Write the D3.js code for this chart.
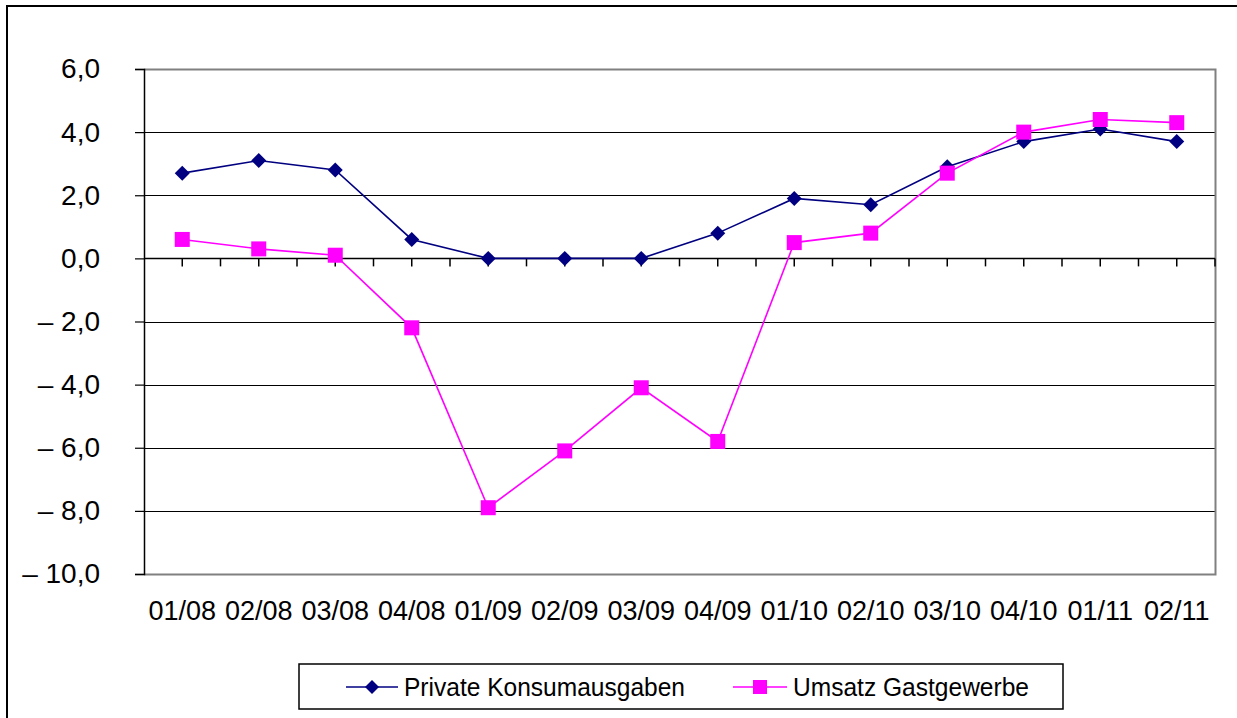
<!doctype html>
<html lang="de">
<head>
<meta charset="utf-8">
<title>Konsum und Gastgewerbe</title>
<style>
html, body { margin: 0; padding: 0; background: #fff; overflow: hidden; }
svg { display: block; font-family: Arial, "Liberation Sans", sans-serif; }
</style>
</head>
<body>
<div id="chart"></div>
<script src="https://cdnjs.cloudflare.com/ajax/libs/d3/7.8.5/d3.min.js"></script>
<script>
// quarters
var quarters = ['01/08', '02/08', '03/08', '04/08', '01/09', '02/09', '03/09', '04/09',
                '01/10', '02/10', '03/10', '04/10', '01/11', '02/11'];
// Private Konsumausgaben
var konsum = [2.7, 3.1, 2.8, 0.6, 0.0, 0.0, 0.0, 0.8, 1.9, 1.7, 2.9, 3.7, 4.1, 3.7];
// Umsatz Gastgewerbe
var gastro = [0.6, 0.3, 0.1, -2.2, -7.9, -6.1, -4.1, -5.8, 0.5, 0.8, 2.7, 4.0, 4.4, 4.3];
var yTicks = [6, 4, 2, 0, -2, -4, -6, -8, -10];
var seriesNames = ['Private Konsumausgaben', 'Umsatz Gastgewerbe'];

var W = 1237, H = 718;
var plot = { left: 144, right: 1215, top: 69, bottom: 574 };
var NAVY = '#000080', MAGENTA = '#ff00ff';

var svg = d3.select('#chart').append('svg')
    .attr('width', W).attr('height', H);

// outer frame (runs off right/bottom edge like the source)
svg.append('rect')
    .attr('x', 7).attr('y', 6).attr('width', W + 10).attr('height', H + 10)
    .attr('fill', 'none').attr('stroke', '#000').attr('stroke-width', 2);

var x = d3.scaleBand().domain(quarters).range([plot.left, plot.right]);
var y = d3.scaleLinear().domain([-10, 6]).range([plot.bottom, plot.top]);
var cx = function (q) { return x(q) + x.bandwidth() / 2; };
var crisp = function (v) { return Math.round(v) + 0.5; };

// gridlines
svg.append('g').selectAll('line')
    .data(yTicks.filter(function (d) { return d !== 6 && d !== -10 && d !== 0; }))
    .enter().append('line')
    .attr('x1', plot.left).attr('x2', plot.right)
    .attr('y1', function (d) { return crisp(y(d)); }).attr('y2', function (d) { return crisp(y(d)); })
    .attr('stroke', '#000').attr('stroke-width', 1);

// plot border (grey top/right/bottom)
svg.append('path')
    .attr('d', 'M' + plot.left + ',' + crisp(y(6)) + 'H' + crisp(plot.right) + 'V' + crisp(y(-10)) + 'H' + plot.left)
    .attr('fill', 'none').attr('stroke', '#808080').attr('stroke-width', 2);

// y axis
var yAxis = d3.axisLeft(y).tickValues(yTicks).tickSize(9).tickPadding(35)
    .tickFormat(function (d) {
        var s = d3.format('.1f')(Math.abs(d)).replace('.', ',');
        return d < 0 ? '\u2013 ' + s : s;
    });
var gy = svg.append('g').attr('transform', 'translate(' + plot.left + ',0)').call(yAxis);
gy.select('.domain').attr('stroke', '#000').attr('stroke-width', 1.5);
gy.selectAll('.tick line').attr('stroke', '#000').attr('stroke-width', 1.2);
gy.selectAll('.tick text').attr('font-size', 28).attr('fill', '#000')
    .attr('font-family', 'Arial, "Liberation Sans", sans-serif');

// zero line with ticks at band centres and boundaries
var half = [];
quarters.forEach(function (q) { half.push(x(q)); half.push(cx(q)); });
half.push(plot.right);
var zero = svg.append('g');
zero.append('line')
    .attr('x1', plot.left).attr('x2', plot.right)
    .attr('y1', crisp(y(0))).attr('y2', crisp(y(0)))
    .attr('stroke', '#000').attr('stroke-width', 1.5);
zero.selectAll('line.tk').data(half.slice(1)).enter().append('line')
    .attr('class', 'tk')
    .attr('x1', function (d) { return d; }).attr('x2', function (d) { return d; })
    .attr('y1', y(0)).attr('y2', y(0) + 8)
    .attr('stroke', '#000').attr('stroke-width', 1.5);

// category labels
svg.append('g').selectAll('text').data(quarters).enter().append('text')
    .attr('x', cx).attr('y', 620)
    .attr('text-anchor', 'middle').attr('font-size', 27).attr('fill', '#000')
    .text(function (d) { return d; });

// lines
var line = d3.line()
    .x(function (d, i) { return cx(quarters[i]); })
    .y(function (d) { return y(d); });

svg.append('path').datum(konsum).attr('d', line)
    .attr('fill', 'none').attr('stroke', NAVY).attr('stroke-width', 1.6);
svg.append('path').datum(gastro).attr('d', line)
    .attr('fill', 'none').attr('stroke', MAGENTA).attr('stroke-width', 1.6);

var diamond = function (px, py, r) {
    return 'M' + px + ',' + (py - r) + 'L' + (px + r) + ',' + py + 'L' + px + ',' + (py + r) + 'L' + (px - r) + ',' + py + 'Z';
};

svg.append('g').selectAll('path').data(konsum).enter().append('path')
    .attr('d', function (d, i) { return diamond(cx(quarters[i]), y(d), 7.5); })
    .attr('fill', NAVY);

svg.append('g').selectAll('rect').data(gastro).enter().append('rect')
    .attr('x', function (d, i) { return cx(quarters[i]) - 7.5; })
    .attr('y', function (d) { return y(d) - 7.5; })
    .attr('width', 15).attr('height', 15)
    .attr('fill', MAGENTA);

// legend
var lg = svg.append('g');
lg.append('rect').attr('x', 299).attr('y', 664).attr('width', 764).attr('height', 45)
    .attr('fill', '#fff').attr('stroke', '#000').attr('stroke-width', 1.5);
var ly = 687;
lg.append('line').attr('x1', 346).attr('x2', 398).attr('y1', ly).attr('y2', ly)
    .attr('stroke', NAVY).attr('stroke-width', 1.6);
lg.append('path').attr('d', diamond(372, ly, 7)).attr('fill', NAVY);
lg.append('text').attr('x', 404).attr('y', ly + 9).attr('font-size', 25)
    .attr('textLength', 281).attr('lengthAdjust', 'spacingAndGlyphs')
    .text(seriesNames[0]);
lg.append('line').attr('x1', 733).attr('x2', 787).attr('y1', ly).attr('y2', ly)
    .attr('stroke', MAGENTA).attr('stroke-width', 1.6);
lg.append('rect').attr('x', 760 - 7).attr('y', ly - 7).attr('width', 14).attr('height', 14)
    .attr('fill', MAGENTA);
lg.append('text').attr('x', 793).attr('y', ly + 9).attr('font-size', 25)
    .attr('textLength', 236).attr('lengthAdjust', 'spacingAndGlyphs')
    .text(seriesNames[1]);
</script>
</body>
</html>
